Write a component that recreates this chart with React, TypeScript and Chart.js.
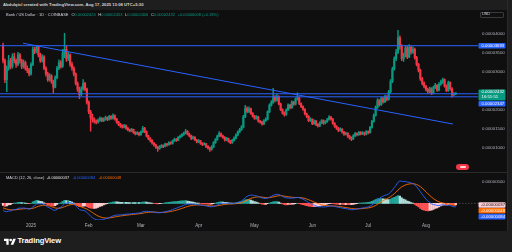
import React, { useEffect, useRef } from "react";
import { Chart, registerables } from "chart.js";

Chart.register(...registerables);

// ---------- DATA (prices in millionths of a USD, i.e. 1 = 0.000001) ----------
// daily candles, first candle = 2024-12-17, last = 2025-08-17
const firstOpen = 37;
const closes = [
  33, 28, 31, 33, 31.5, 34, 33, 32, 34.5, 33,
  31.5, 32.5, 31, 30.5, 29.5, 32, 36, 35.5, 36.7, 34.5,
  33, 34, 31, 29.5, 28, 29, 27.5, 26, 28.5, 31,
  32.5, 31.5, 35, 36, 33.5, 34.5, 32, 31, 29.5, 27,
  25.5, 24, 25.5, 27, 25.5, 22, 19.5, 18, 17.5, 17,
  16.8, 17.3, 17.8, 17.2, 17.6, 18, 17.5, 18.3, 17.8, 18.5,
  17.6, 16.8, 16.2, 15.8, 15.5, 15.9, 15.2, 14.8, 14.5, 14.9,
  14.1, 13.7, 14.0, 13.5, 14.2, 15.2, 14.3, 13.2, 12.5, 12.0,
  11.3, 10.8, 10.2, 9.8, 10.3, 10.6, 10.4, 11.0, 10.8, 11.4,
  11.2, 11.9, 12.3, 12.0, 12.8, 13.1, 13.5, 13.9, 14.4, 13.6,
  13.2, 12.5, 12.8, 12.1, 11.6, 11.9, 11.2, 10.9, 11.1, 10.4,
  10.0, 9.6, 10.3, 11.4, 12.2, 13.1, 13.8, 13.2, 12.8, 12.1,
  12.5, 11.8, 11.4, 12.0, 12.6, 13.4, 14.2, 14.8, 15.5, 18.2,
  20.4, 19.6, 20.3, 19.1, 18.4, 17.8, 18.2, 17.1, 16.8, 16.3,
  17.2, 17.6, 19.5, 21.2, 22.0, 23.4, 22.6, 23.5, 21.6, 20.1,
  19.2, 18.8, 20.0, 21.3, 20.6, 22.1, 21.5, 22.9, 23.2, 21.7,
  20.9, 20.2, 19.0, 18.3, 17.2, 17.6, 16.4, 17.1, 16.2, 15.8,
  16.6, 17.2, 16.5, 16.9, 17.5, 18.1, 17.6, 16.5, 15.7, 15.2,
  14.6, 15.0, 14.2, 13.6, 13.9, 13.1, 12.6, 12.4, 13.2, 13.8,
  13.5, 14.1, 13.7, 14.0, 13.6, 14.3, 14.0, 15.4, 17.0, 18.6,
  20.7, 22.5, 21.4, 23.0, 22.1, 23.5, 22.8, 24.8, 27.5, 30.8,
  33.5, 35.2, 39.0, 36.8, 33.5, 34.2, 36.4, 34.0, 36.5, 35.2,
  36.0, 33.8, 32.0, 30.5, 28.2, 27.0, 26.2, 25.4, 24.8, 25.6,
  24.4, 25.9, 26.5, 25.2, 26.8, 27.4, 28.0, 26.3, 25.1, 27.2,
  25.6, 24.0, 24.24, 24.32,
];
const highs = [
  37.6, 33.5, 31.6, 34.4, 33.6, 34.8, 35.0, 33.5, 35.2, 34.9,
  33.4, 33.2, 32.9, 31.6, 31.0, 32.5, 36.6, 36.5, 37.0, 36.9,
  35.0, 34.6, 34.3, 31.4, 30.0, 29.6, 29.3, 27.9, 29.0, 31.5,
  33.2, 33.0, 36.0, 40.2, 37.0, 35.2, 34.8, 32.6, 31.4, 29.8,
  27.4, 26.0, 26.1, 28.0, 27.3, 25.8, 22.4, 19.9, 18.9, 17.9,
  17.4, 17.7, 18.2, 18.0, 17.9, 18.4, 18.2, 18.6, 18.5, 19.0,
  18.7, 17.8, 17.0, 16.5, 16.1, 16.2, 16.1, 15.4, 15.0, 15.2,
  15.0, 14.3, 14.3, 14.2, 14.5, 15.7, 15.4, 14.5, 13.4, 12.7,
  12.2, 11.5, 11.0, 10.4, 10.6, 10.9, 10.8, 11.3, 11.2, 11.7,
  11.6, 12.1, 12.6, 12.5, 13.0, 13.4, 13.8, 14.2, 14.9, 14.6,
  13.9, 13.4, 13.1, 13.0, 12.3, 12.2, 12.0, 11.4, 11.4, 11.2,
  10.6, 10.2, 10.6, 11.7, 12.5, 13.4, 14.3, 14.0, 13.4, 13.0,
  12.8, 12.6, 12.0, 12.3, 12.9, 13.7, 14.5, 15.2, 15.9, 18.6,
  21.2, 20.8, 20.8, 20.5, 19.3, 18.6, 18.5, 18.3, 17.3, 17.0,
  17.5, 17.9, 19.8, 21.6, 22.5, 25.7, 23.8, 24.2, 23.7, 21.8,
  20.3, 19.5, 20.3, 21.6, 21.5, 22.4, 22.3, 23.2, 24.5, 23.4,
  21.9, 21.1, 20.4, 19.2, 18.5, 17.9, 17.7, 17.4, 17.3, 16.4,
  16.9, 17.5, 17.4, 17.2, 17.8, 18.5, 18.3, 17.8, 16.7, 15.9,
  15.4, 15.3, 15.1, 14.4, 14.2, 14.0, 13.3, 12.9, 13.5, 14.1,
  14.0, 14.4, 14.3, 14.3, 14.2, 14.6, 14.5, 15.7, 17.3, 19.0,
  21.1, 23.0, 22.8, 23.4, 23.3, 23.9, 23.8, 25.2, 28.0, 31.3,
  34.0, 36.0, 41.0, 39.5, 37.2, 35.0, 37.0, 36.8, 37.2, 36.9,
  36.6, 36.3, 34.1, 32.3, 30.8, 28.6, 27.4, 26.5, 25.8, 26.0,
  25.9, 26.3, 27.0, 26.7, 27.2, 27.9, 28.4, 28.2, 26.6, 27.6,
  27.4, 25.9, 24.6, 24.53,
];
const lows = [
  32.4, 27.2, 24.8, 30.5, 30.8, 31.0, 32.4, 31.2, 31.6, 32.3,
  30.9, 31.0, 30.5, 29.8, 29.0, 29.2, 31.7, 34.8, 35.0, 34.0,
  32.5, 32.6, 30.6, 28.9, 27.5, 27.6, 27.0, 24.5, 25.8, 28.2,
  30.6, 31.0, 31.2, 33.8, 32.8, 33.0, 31.5, 30.4, 29.0, 26.6,
  24.9, 23.0, 23.7, 25.2, 25.0, 21.5, 19.0, 14.4, 16.8, 16.5,
  16.3, 16.5, 17.0, 16.9, 16.9, 17.3, 17.2, 17.3, 17.5, 17.6,
  17.3, 16.5, 15.9, 15.4, 15.2, 15.3, 14.9, 14.5, 14.2, 14.3,
  13.8, 13.4, 13.5, 13.2, 13.3, 14.0, 14.0, 12.9, 12.2, 11.6,
  11.0, 10.5, 9.9, 9.1, 9.6, 10.1, 10.1, 10.3, 10.5, 10.7,
  10.9, 11.0, 11.7, 11.7, 11.9, 12.6, 12.9, 13.3, 13.7, 13.4,
  12.9, 12.2, 12.3, 11.9, 11.3, 11.4, 10.9, 10.6, 10.7, 10.1,
  9.7, 9.1, 9.4, 10.1, 11.2, 12.0, 12.9, 12.9, 12.5, 11.8,
  11.9, 11.5, 11.1, 11.2, 11.8, 12.4, 13.2, 14.0, 14.6, 15.3,
  18.0, 19.2, 19.3, 18.8, 18.1, 17.5, 17.6, 16.8, 16.5, 16.0,
  16.1, 17.0, 17.4, 19.3, 21.0, 21.7, 22.1, 22.3, 21.3, 19.8,
  18.9, 18.4, 18.6, 19.8, 20.3, 20.4, 21.2, 21.3, 22.6, 21.4,
  20.6, 19.9, 18.7, 18.0, 16.9, 17.0, 16.1, 16.2, 15.9, 15.5,
  15.6, 16.4, 16.2, 16.3, 16.7, 17.3, 17.3, 16.2, 15.4, 14.9,
  14.3, 14.4, 13.9, 13.3, 13.4, 12.8, 12.3, 11.9, 12.2, 13.0,
  13.2, 13.3, 13.4, 13.5, 13.3, 13.4, 13.7, 13.9, 15.2, 16.8,
  18.4, 20.4, 21.0, 21.2, 21.8, 21.9, 22.4, 22.6, 24.5, 27.2,
  30.5, 33.0, 34.8, 36.0, 33.0, 32.8, 34.0, 33.5, 33.8, 34.7,
  34.9, 33.4, 31.6, 30.0, 27.8, 26.6, 25.8, 25.0, 24.3, 24.5,
  24.0, 24.2, 25.6, 24.9, 25.0, 26.5, 27.0, 26.0, 24.8, 24.9,
  25.2, 23.4, 23.7, 24.06,
];

// time axis: day index of each month start, and its label
const monthTickIndex = [15, 46, 74, 105, 135, 166, 196, 227];
const monthTickLabels = ["2025", "Feb", "Mar", "Apr", "May", "Jun", "Jul", "Aug"];
const priceTicks = [10, 15, 20, 25, 30, 35, 40];
const macdTicks = [5];

// drawings
const trendStart = { x: 10.7, y: 37.58 };
const trendEnd = { x: 241.5, y: 16.29 };
const resistanceLevel = 36.93;
const supportUpper = 24.27;
const supportLower = 23.47;
const lastPrice = 24.32;
const countdown = "16:51:51";

const macdSeed = { fast: 34.5, slow: 36.0, signal: -0.9 };
const macdLegendValues = [-0.37, -0.84, -0.48]; // histogram, MACD, signal

// texts
const headerText = "Abdulqtsl created with TradingView.com, Aug 17, 2025 13:08 UTC+5:30";
const symbolText = "Bonk / US Dollar · 1D · COINBASE";
const ohlcLabels = ["O", "H", "L", "C"];
const ohlcValues = ["0.00002424", "0.00002453", "0.00002406", "0.00002432"];
const changeText = "+0.00000008 (+0.33%)";
const macdTitle = "MACD (12, 26, close)";

// ---------- STYLE ----------
const FONT = '"Liberation Sans", Arial, sans-serif';
const UP = "#089981";
const DOWN = "#f23645";
const BLUE = "#2962ff";
const ORANGE = "#ff6d00";
const BG = "#0f0f0f";
const FRAME = "#1e1e1e";
const TEXT = "#d1d4dc";
const AXIS_TEXT = "#b2b5be";
const X_MIN = -1.637;
const X_MAX = 254.94;

const fmt = (v: number) => (v / 1e6).toFixed(8);

function axisBox(ctx: CanvasRenderingContext2D, x: number, top: number, w: number, h: number, bg: string) {
  ctx.fillStyle = bg;
  ctx.beginPath();
  ctx.roundRect(x, top, w, h, 1);
  ctx.fill();
}
function axisText(ctx: CanvasRenderingContext2D, text: string, x: number, y: number, color: string) {
  ctx.fillStyle = color;
  ctx.font = `4.3px ${FONT}`;
  ctx.textAlign = "left";
  ctx.textBaseline = "middle";
  ctx.fillText(text, x, y);
}

export default function App() {
  const mainRef = useRef<HTMLCanvasElement>(null);
  const macdRef = useRef<HTMLCanvasElement>(null);

  useEffect(() => {
    const opens = closes.map((_, i) => (i === 0 ? firstOpen : closes[i - 1]));
    const colors = closes.map((c, i) => (c >= opens[i] ? UP : DOWN));
    const wickData = closes.map((_, i) => ({ x: i, y: [lows[i], highs[i]] }));
    const bodyData = closes.map((c, i) => ({ x: i, y: [Math.min(opens[i], c), Math.max(opens[i], c)] }));

    const priceLabels = {
      id: "priceLabels",
      afterDraw(chart: any) {
        const ctx = chart.ctx as CanvasRenderingContext2D;
        const y = chart.scales.y;
        const left = chart.chartArea.right + 0.5;
        const w = 27;
        ctx.save();
        const pr = y.getPixelForValue(resistanceLevel);
        axisBox(ctx, left, pr - 2.8, w, 5.6, BLUE);
        axisText(ctx, fmt(resistanceLevel), left + 3, pr + 0.2, "#ffffff");
        const pl = y.getPixelForValue(lastPrice);
        axisBox(ctx, left, pl - 4.2, w, 11, UP);
        axisText(ctx, fmt(lastPrice), left + 3, pl - 1.3, "#ffffff");
        axisText(ctx, countdown, left + 3, pl + 3.6, "#ffffff");
        const top2 = pl + 7.3;
        axisBox(ctx, left, top2, w, 5.6, BLUE);
        axisText(ctx, fmt(supportLower), left + 3, top2 + 2.9, "#ffffff");
        ctx.restore();
      },
    };

    const hLine = (v: number) => ({
      type: "line" as const,
      data: [{ x: X_MIN, y: v }, { x: X_MAX, y: v }],
      borderColor: BLUE,
      borderWidth: 1,
      pointRadius: 0,
      order: 0,
    });

    const main = new Chart(mainRef.current!, {
      type: "bar",
      data: {
        datasets: [
          { type: "bar", data: wickData as any, backgroundColor: colors, barThickness: 0.8, grouped: false, order: 2 } as any,
          { type: "bar", data: bodyData as any, backgroundColor: colors, barThickness: 1.5, minBarLength: 1, grouped: false, order: 1 } as any,
          { type: "line", data: [trendStart, trendEnd], borderColor: BLUE, borderWidth: 1, pointRadius: 0, order: 0 },
          hLine(resistanceLevel),
          hLine(supportUpper),
          hLine(supportLower),
        ],
      },
      options: {
        animation: false,
        responsive: false,
        maintainAspectRatio: false,
        layout: { padding: 0 },
        plugins: { legend: { display: false }, tooltip: { enabled: false } },
        scales: {
          x: { type: "linear", min: X_MIN, max: X_MAX, offset: false, display: false },
          y: {
            type: "linear",
            position: "right",
            min: 5.4,
            max: 44.597,
            afterBuildTicks: (s: any) => { s.ticks = priceTicks.map((v) => ({ value: v })); },
            afterFit: (s: any) => { s.width = 29; },
            grid: { display: false, drawTicks: false },
            border: { display: false },
            ticks: { color: AXIS_TEXT, font: { size: 4.3, family: FONT }, padding: 4, callback: (v: any) => fmt(Number(v)) },
          },
        },
      },
      plugins: [priceLabels],
    });

    // MACD
    const kF = 2 / 13, kS = 2 / 27, kSig = 2 / 10;
    let ef = macdSeed.fast, es = macdSeed.slow, sg = macdSeed.signal;
    const macd: number[] = [], signal: number[] = [], hist: number[] = [];
    closes.forEach((c) => {
      ef += kF * (c - ef);
      es += kS * (c - es);
      const m = ef - es;
      sg += kSig * (m - sg);
      macd.push(m);
      signal.push(sg);
      hist.push(m - sg);
    });
    const histColors = hist.map((h, i) => {
      const prev = i === 0 ? h : hist[i - 1];
      if (h >= 0) return h > prev ? "#26a69a" : "#b2dfdb";
      return h < prev ? "#ff5252" : "#ffcdd2";
    });

    const macdLabels = {
      id: "macdLabels",
      beforeDatasetsDraw(chart: any) {
        const ctx = chart.ctx as CanvasRenderingContext2D;
        const y0 = chart.scales.y.getPixelForValue(0);
        ctx.save();
        ctx.strokeStyle = "rgba(120,123,134,0.6)";
        ctx.lineWidth = 0.8;
        ctx.setLineDash([1.5, 1.5]);
        ctx.beginPath();
        ctx.moveTo(chart.chartArea.left, y0);
        ctx.lineTo(chart.chartArea.right, y0);
        ctx.stroke();
        ctx.restore();
      },
      afterDraw(chart: any) {
        const ctx = chart.ctx as CanvasRenderingContext2D;
        const y = chart.scales.y;
        const left = chart.chartArea.right + 0.5;
        const items = [
          { v: macdLegendValues[0], bg: "#ffcdd2", fg: "#131722" },
          { v: macdLegendValues[2], bg: ORANGE, fg: "#ffffff" },
          { v: macdLegendValues[1], bg: BLUE, fg: "#ffffff" },
        ];
        ctx.save();
        let prev = -Infinity;
        items.forEach((it) => {
          let c = y.getPixelForValue(it.v);
          if (c < prev + 5.8) c = prev + 5.8;
          prev = c;
          axisBox(ctx, left, c - 2.8, 27, 5.6, it.bg);
          axisText(ctx, fmt(it.v), left + 2.5, c + 0.2, it.fg);
        });
        ctx.restore();
      },
    };

    const idx = closes.map((_, i) => i);
    const macdChart = new Chart(macdRef.current!, {
      type: "bar",
      data: {
        datasets: [
          { type: "bar", data: idx.map((i) => ({ x: i, y: hist[i] })) as any, backgroundColor: histColors, barThickness: 1.6, grouped: false, order: 3 } as any,
          { type: "line", data: idx.map((i) => ({ x: i, y: macd[i] })), borderColor: BLUE, borderWidth: 0.9, pointRadius: 0, order: 1 },
          { type: "line", data: idx.map((i) => ({ x: i, y: signal[i] })), borderColor: ORANGE, borderWidth: 0.9, pointRadius: 0, order: 2 },
        ],
      },
      options: {
        animation: false,
        responsive: false,
        maintainAspectRatio: false,
        layout: { padding: 0 },
        plugins: { legend: { display: false }, tooltip: { enabled: false } },
        scales: {
          x: {
            type: "linear",
            min: X_MIN,
            max: X_MAX,
            offset: false,
            afterBuildTicks: (s: any) => { s.ticks = monthTickIndex.map((v) => ({ value: v })); },
            afterFit: (s: any) => { s.height = 11; },
            grid: { display: false, drawTicks: false },
            border: { display: false },
            ticks: {
              color: AXIS_TEXT,
              font: { size: 4.5, family: FONT },
              padding: 3,
              autoSkip: false,
              maxRotation: 0,
              callback: (v: any) => monthTickLabels[monthTickIndex.indexOf(Number(v))] ?? "",
            },
          },
          y: {
            type: "linear",
            position: "right",
            min: -3.86,
            max: 5.54,
            afterBuildTicks: (s: any) => { s.ticks = macdTicks.map((v) => ({ value: v })); },
            afterFit: (s: any) => { s.width = 29; },
            grid: { display: false, drawTicks: false },
            border: { display: false },
            ticks: { color: AXIS_TEXT, font: { size: 4.3, family: FONT }, padding: 4, callback: (v: any) => fmt(Number(v)) },
          },
        },
      },
      plugins: [macdLabels],
    });

    return () => {
      main.destroy();
      macdChart.destroy();
    };
  }, []);

  const abs = (s: React.CSSProperties): React.CSSProperties => ({ position: "absolute", whiteSpace: "nowrap", ...s });

  return (
    <div style={{ position: "fixed", left: 0, top: 0, width: 512, height: 252, background: BG, overflow: "hidden", fontFamily: FONT }}>
      {/* header */}
      <div style={abs({ left: 0, top: 0, width: 512, height: 10, background: FRAME })} />
      <div style={abs({ left: 3, top: 2, height: 6, lineHeight: "6px", fontSize: 4.2, fontWeight: 700, color: TEXT })}>{headerText}</div>

      <canvas ref={mainRef} width={507} height={162} style={abs({ left: 0, top: 10, width: 507, height: 162 })} />
      <div style={abs({ left: 0, top: 172, width: 507, height: 1, background: "#2a2a2a" })} />
      <canvas ref={macdRef} width={507} height={58} style={abs({ left: 0, top: 173, width: 507, height: 58 })} />

      {/* symbol legend */}
      <div style={abs({ left: 6, top: 12, height: 6, lineHeight: "6px", fontSize: 4, color: TEXT })}>
        <span>{symbolText}</span>
        {ohlcLabels.map((l, i) => (
          <span key={l} style={{ marginLeft: i === 0 ? 3 : 2.6 }}>
            {l}
            <span style={{ color: UP }}>{ohlcValues[i]}</span>
          </span>
        ))}
        <span style={{ color: UP, marginLeft: 2.6 }}>{changeText}</span>
      </div>

      {/* currency button */}
      <div style={abs({ left: 480, top: 12, width: 24, height: 5.5, border: "0.5px solid #3a3a3a", borderRadius: 1, boxSizing: "border-box" })} />
      <div style={abs({ left: 482, top: 12, height: 5.5, lineHeight: "5.5px", fontSize: 3.8, color: TEXT })}>USD</div>

      {/* flag marker */}
      <div style={abs({ left: 456, top: 164, width: 13, height: 5.5, borderRadius: 3, background: DOWN })} />
      <div style={abs({ left: 459.5, top: 166, width: 6, height: 1.5, borderRadius: 1, background: "#ffd6d9" })} />

      {/* MACD legend */}
      <div style={abs({ left: 6, top: 174.5, height: 6, lineHeight: "6px", fontSize: 4, color: TEXT })}>
        <span>{macdTitle}</span>
        <span style={{ marginLeft: 2.5, color: "#e8e8e8" }}>{fmt(macdLegendValues[0])}</span>
        <span style={{ marginLeft: 3.5, color: BLUE }}>{fmt(macdLegendValues[1])}</span>
        <span style={{ marginLeft: 3.5, color: ORANGE }}>{fmt(macdLegendValues[2])}</span>
      </div>

      {/* right frame */}
      <div style={abs({ left: 507, top: 0, width: 5, height: 252, background: FRAME, borderLeft: "1px solid #2a2a2a", boxSizing: "border-box" })} />

      {/* footer */}
      <div style={abs({ left: 0, top: 231, width: 512, height: 21, background: FRAME })} />
      <svg style={abs({ left: 4, top: 237.5 })} width={12} height={8} viewBox="0 0 36 24">
        <path d="M14 20H7V9H0V2h14v18z" fill="#ffffff" />
        <circle cx="20" cy="6" r="4" fill="#ffffff" />
        <path d="M28 20h-8l7.5-18h8L28 20z" fill="#ffffff" />
      </svg>
      <div style={abs({ left: 17.5, top: 236, height: 10, lineHeight: "10px", fontSize: 7.6, fontWeight: 700, color: "#ffffff", letterSpacing: -0.1 })}>TradingView</div>
    </div>
  );
}
